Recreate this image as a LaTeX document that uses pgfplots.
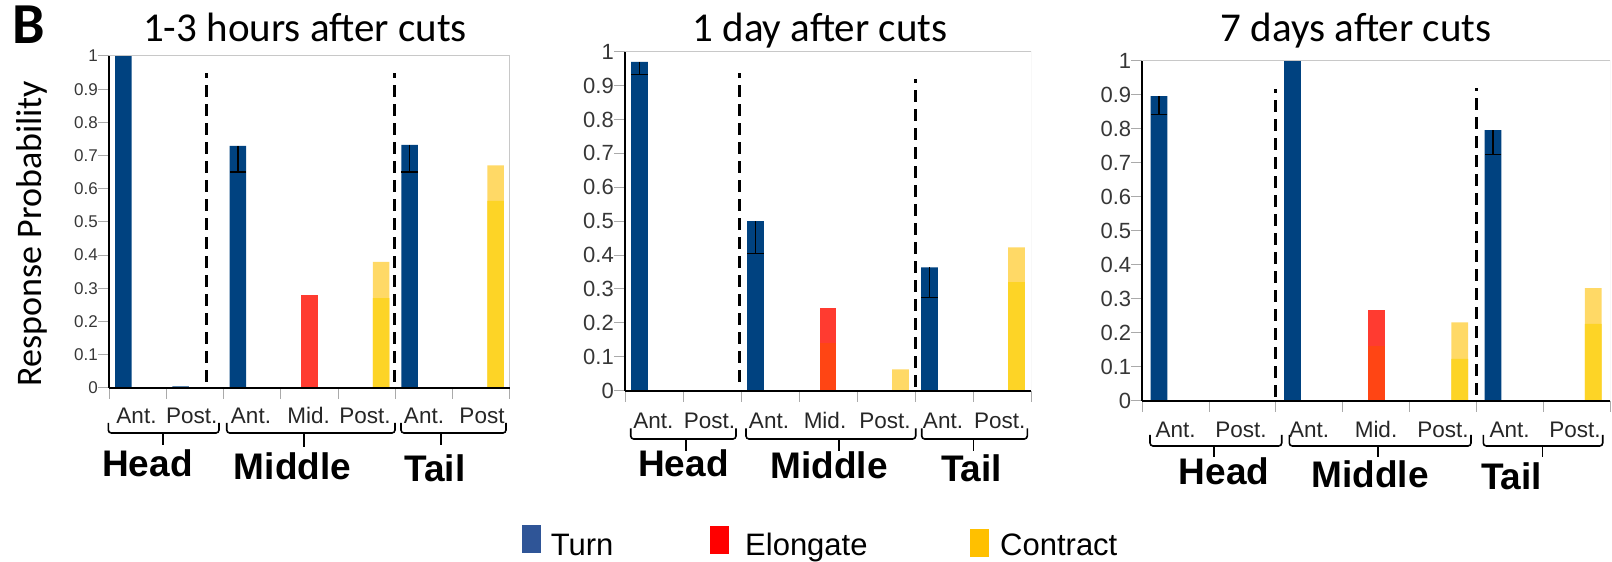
\documentclass[border=0pt]{standalone}
\usepackage{fontspec}
\setmainfont{Liberation Sans}
\newfontfamily\carlito{Carlito}
\usepackage{pgfplots}
\pgfplotsset{compat=1.18}

\definecolor{turn}{RGB}{0,66,128}
\definecolor{elon}{RGB}{255,59,48}
\definecolor{elondark}{RGB}{255,69,20}
\definecolor{contdark}{RGB}{253,212,38}
\definecolor{contlight}{RGB}{255,217,102}
\definecolor{legturn}{RGB}{47,85,151}
\definecolor{legelon}{RGB}{255,0,0}
\definecolor{legcont}{RGB}{255,192,0}
\definecolor{ticklab}{RGB}{55,55,55}
\definecolor{framegray}{RGB}{200,200,200}
\definecolor{tickgray}{RGB}{170,170,170}

\pgfplotsset{
  panel/.style={
    scale only axis,
    anchor=south west,
    xmin=-0.5, xmax=6.5, ymin=0, ymax=1,
    axis x line*=bottom, axis y line*=left,
    axis line style={black, line width=2pt},
    xtick={-0.5,0.5,1.5,2.5,3.5,4.5,5.5,6.5},
    xticklabels={},
    ytick={0,0.1,0.2,0.3,0.4,0.5,0.6,0.7,0.8,0.9,1},
    tick align=outside,
    major tick length=11pt,
    tick style={color=tickgray, line width=1pt},
    yticklabel style={text=ticklab, anchor=east, inner sep=0pt},
    /pgf/number format/assume math mode=true,
    bar shift=0pt,
    axis on top,
    error bars/error bar style={draw=black, line width=1.3pt},
    error bars/error mark options={draw=black, rotate=90, mark size=8.3pt, line width=1.3pt},
  },
  mybar/.style={ybar, draw=none, fill=#1},
  sep/.style={black, line width=3pt, dash pattern=on 12pt off 7pt},
}

\newcommand{\lab}[3]{\node[anchor=base, inner sep=0pt, font=\fontsize{22.5}{26}\selectfont, text=black!85] at (#1,#2) {#3};}
\newcommand{\grp}[3]{\node[anchor=base, inner sep=0pt, font=\bfseries\fontsize{37}{42}\selectfont] at (#1,#2) {#3};}
\newcommand{\mybrace}[6]{%
  \draw[line width=1.6pt, rounded corners=3pt] (#1,#4) -- (#1,#5) -- (#2,#5) -- (#2,#4);
  \draw[line width=1.6pt] (#3,#5) -- (#3,#6);}

\begin{document}
\begin{tikzpicture}[x=1pt,y=1pt]
\useasboundingbox (0,0) rectangle (1612,562);

% ---------------- Panel 1: 1-3 hours ----------------
\begin{axis}[panel, at={(109pt,174.3pt)}, width=401pt, height=331.7pt, bar width=0.288,
  yticklabel style={font=\fontsize{17}{20}\selectfont}]
\addplot[mybar=turn] coordinates {(-0.25,1) (0.75,0.004)};
\addplot[mybar=turn, error bars/.cd, y dir=minus, y explicit] coordinates {(1.75,0.729) +- (0,0.079) (4.75,0.732) +- (0,0.082)};
\addplot[mybar=elon] coordinates {(3,0.279)};
\addplot[mybar=contlight] coordinates {(4.25,0.379) (6.25,0.670)};
\addplot[mybar=contdark] coordinates {(4.25,0.270) (6.25,0.563)};
\addplot[sep] coordinates {(1.205,0.018) (1.205,0.948)};
\addplot[sep] coordinates {(4.48,0.018) (4.48,0.948)};
\draw[framegray, line width=1pt] (rel axis cs:0,1) -- (rel axis cs:1,1) -- (rel axis cs:1,0);
\end{axis}

% ---------------- Panel 2: 1 day ----------------
\begin{axis}[panel, at={(625pt,171.3pt)}, width=406pt, height=339pt, bar width=0.288,
  yticklabel style={font=\fontsize{22}{26}\selectfont}]
\addplot[mybar=turn, error bars/.cd, y dir=minus, y explicit] coordinates {(-0.25,0.970) +- (0,0.037) (1.75,0.500) +- (0,0.095) (4.75,0.364) +- (0,0.090)};
\addplot[mybar=elon] coordinates {(3,0.245)};
\addplot[mybar=elondark] coordinates {(3,0.140)};
\addplot[mybar=contlight] coordinates {(4.25,0.063) (6.25,0.423)};
\addplot[mybar=contdark] coordinates {(6.25,0.322)};
\addplot[sep] coordinates {(1.48,0.027) (1.48,0.936)};
\addplot[sep] coordinates {(4.51,0.012) (4.51,0.918)};
\draw[framegray, line width=1pt] (rel axis cs:0,1) -- (rel axis cs:1,1) -- (rel axis cs:1,0);
\end{axis}

% ---------------- Panel 3: 7 days ----------------
\begin{axis}[panel, at={(1142.3pt,161.3pt)}, width=467.7pt, height=340pt, bar width=0.25,
  yticklabel style={font=\fontsize{22}{26}\selectfont}]
\addplot[mybar=turn] coordinates {(1.75,1.0)};
\addplot[mybar=turn, error bars/.cd, y dir=minus, y explicit] coordinates {(-0.25,0.896) +- (0,0.055) (4.75,0.796) +- (0,0.071)};
\addplot[mybar=elon] coordinates {(3,0.267)};
\addplot[mybar=elondark] coordinates {(3,0.161)};
\addplot[mybar=contlight] coordinates {(4.25,0.230) (6.25,0.331)};
\addplot[mybar=contdark] coordinates {(4.25,0.123) (6.25,0.226)};
\addplot[sep] coordinates {(1.487,0.012) (1.487,0.916)};
\addplot[sep] coordinates {(4.506,0.017) (4.506,0.919)};
\draw[framegray, line width=1pt] (rel axis cs:0,1) -- (rel axis cs:1,1) -- (rel axis cs:1,0);
\end{axis}

% ---------------- Titles, panel letter, y label ----------------
\node[anchor=base west, inner sep=0pt, font=\carlito\bfseries\fontsize{58}{66}\selectfont] at (12,518) {B};
\node[anchor=base, inner sep=0pt, font=\carlito\fontsize{41}{48}\selectfont] at (305,520) {1-3 hours after cuts};
\node[anchor=base, inner sep=0pt, font=\carlito\fontsize{41}{48}\selectfont] at (820,520.3) {1 day after cuts};
\node[anchor=base, inner sep=0pt, font=\carlito\fontsize{41}{48}\selectfont] at (1356,520.3) {7 days after cuts};
\node[rotate=90, anchor=base, inner sep=0pt, font=\carlito\fontsize{36}{42}\selectfont] at (42,328.5) {Response Probability};

% ---------------- Category labels ----------------
\lab{136.5}{138.7}{Ant.}\lab{191.7}{138.7}{Post.}\lab{251}{138.7}{Ant.}\lab{308.7}{138.7}{Mid.}
\lab{365}{138.7}{Post.}\lab{424}{138.7}{Ant.}\lab{482}{138.7}{Post}
\lab{653.3}{133.7}{Ant.}\lab{709.5}{133.7}{Post.}\lab{769}{133.7}{Ant.}\lab{825}{133.7}{Mid.}
\lab{885}{133.7}{Post.}\lab{943}{133.7}{Ant.}\lab{999.7}{133.7}{Post.}
\lab{1175.5}{124.7}{Ant.}\lab{1241}{124.7}{Post.}\lab{1309}{124.7}{Ant.}\lab{1376}{124.7}{Mid.}
\lab{1443}{124.7}{Post.}\lab{1509.5}{124.7}{Ant.}\lab{1575}{124.7}{Post.}

% ---------------- Braces ----------------
\mybrace{108.3}{219}{162.7}{139}{129}{117}
\mybrace{226.7}{395}{304}{139}{129}{115}
\mybrace{401}{506}{441}{139}{129}{117}
\mybrace{630.7}{736}{686}{133.7}{123}{111.3}
\mybrace{746}{915.7}{839}{133.7}{123}{111.3}
\mybrace{921.7}{1027.3}{973.3}{133.7}{123}{111.3}
\mybrace{1150}{1281.7}{1214}{127}{116}{105.3}
\mybrace{1289.3}{1471}{1377.7}{127}{116}{105.3}
\mybrace{1483.3}{1602.7}{1542.3}{127}{116}{105.3}

% ---------------- Group labels ----------------
\grp{147.5}{85}{Head}\grp{292.5}{82}{Middle}\grp{435}{80}{Tail}
\grp{683.5}{85}{Head}\grp{829}{83}{Middle}\grp{971.5}{80}{Tail}
\grp{1224}{77}{Head}\grp{1370}{74}{Middle}\grp{1511.5}{72}{Tail}

% ---------------- Legend ----------------
\fill[legturn] (521.7,9.3) rectangle (540.7,37);
\node[anchor=base west, inner sep=0pt, font=\fontsize{31}{36}\selectfont] at (550.6,6.3) {Turn};
\fill[legelon] (709.5,8.3) rectangle (728.5,36);
\node[anchor=base west, inner sep=0pt, font=\fontsize{31}{36}\selectfont] at (745,6.3) {Elongate};
\fill[legcont] (969.6,5.3) rectangle (988.5,33);
\node[anchor=base west, inner sep=0pt, font=\fontsize{31}{36}\selectfont] at (1000,6) {Contract};
\end{tikzpicture}
\end{document}
